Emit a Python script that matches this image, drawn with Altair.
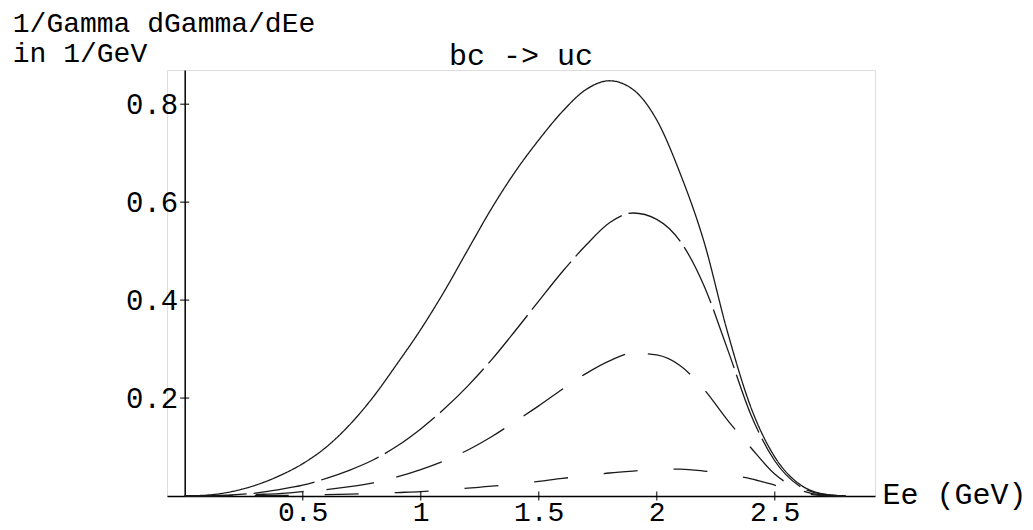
import altair as alt
import pandas as pd

# electron energy grid (GeV)
energy = [0.0, 0.1, 0.2, 0.3, 0.4, 0.5, 0.6, 0.7, 0.8, 0.9, 1.0, 1.1, 1.2, 1.3, 1.4,
          1.5, 1.6, 1.7, 1.8, 1.9, 2.0, 2.1, 2.2, 2.3, 2.4, 2.5, 2.6, 2.7, 2.8]

# 1/Gamma dGamma/dEe (1/GeV)
curve_solid = [0, .002, .009, .022, .041, .066, .100, .146, .203, .270, .340, .418, .503, .587, .662,
               .727, .785, .830, .848, .830, .768, .658, .520, .335, .180, .080, .026, .005, 0]
curve_long = [0, .0005, .002, .006, .013, .022, .036, .053, .074, .102, .137, .178, .225, .278, .337,
              .398, .458, .512, .558, .578, .565, .520, .430, .300, .165, .072, .022, .004, 0]
curve_medium = [0, .0002, .001, .003, .005, .009, .013, .019, .027, .039, .054, .072, .094, .121, .152,
                .184, .218, .250, .276, .292, .288, .266, .218, .155, .098, .045, .014, .002, 0]
curve_short = [0, 0, .0002, .0005, .001, .002, .003, .004, .005, .007, .009, .012, .016, .020, .025,
               .030, .036, .041, .047, .051, .054, .055, .051, .044, .035, .022, .008, .001, 0]

series_names = ["solid", "long dash", "medium dash", "short dash"]
x_ticks = [0.5, 1.0, 1.5, 2.0, 2.5]
y_ticks = [0.2, 0.4, 0.6, 0.8]

rows = []
for name, vals in zip(series_names, [curve_solid, curve_long, curve_medium, curve_short]):
    for e, v in zip(energy, vals):
        rows.append({"Ee": e, "rate": v, "curve": name})
df = pd.DataFrame(rows)

FONT = "Courier New, Courier, Liberation Mono, monospace"
W, H = 708, 426
X_DOM = [-0.075, 2.925]
Y_DOM = [0, 0.87]

x_axis = alt.Axis(values=x_ticks, format="~g", ticks=False, tickSize=0, grid=False,
                  domainColor="black", domainWidth=1.5,
                  labelFont=FONT, labelFontSize=28, labelColor="black",
                  labelPadding=24, labelBaseline="alphabetic",
                  title="Ee (GeV)", titleFont=FONT, titleFontSize=30,
                  titleFontWeight="normal", titleColor="black",
                  titleAlign="left", titleBaseline="middle",
                  titleAngle=0, titleX=W + 7, titleY=-2)
y_axis = alt.Axis(values=y_ticks, format="~g", ticks=False, tickSize=0, grid=False,
                  offset=-17.7,
                  domainColor="black", domainWidth=1.5,
                  labelFont=FONT, labelFontSize=29, labelColor="black",
                  labelPadding=7, labelAlign="right", labelBaseline="middle",
                  title=["1/Gamma dGamma/dEe", "in 1/GeV"],
                  titleFont=FONT, titleFontSize=28, titleFontWeight="normal",
                  titleColor="black", titleAngle=0, titleAlign="left",
                  titleBaseline="alphabetic", titleLineHeight=30,
                  titleX=-172.4, titleY=-39)

x_enc = alt.X("Ee:Q", scale=alt.Scale(domain=X_DOM, nice=False, zero=False), axis=x_axis)
y_enc = alt.Y("rate:Q", scale=alt.Scale(domain=Y_DOM, nice=False, zero=False), axis=y_axis)

lines = alt.Chart(df).mark_line(interpolate="monotone", strokeWidth=1.3, color="#1a1a1a").encode(
    x=x_enc,
    y=y_enc,
    strokeDash=alt.StrokeDash("curve:N",
                              scale=alt.Scale(domain=series_names,
                                              range=[[1, 0], [62, 7], [48, 23], [34, 36]]),
                              legend=None),
    detail="curve:N",
)

xt = alt.Chart(pd.DataFrame({"Ee": x_ticks, "rate": [0.0] * len(x_ticks)})).mark_tick(
    orient="vertical", size=9, thickness=1.5, color="black").encode(x=x_enc, y=y_enc)

yt = alt.Chart(pd.DataFrame({"rate": y_ticks, "Ee": [0.0] * len(y_ticks)})).mark_tick(
    orient="horizontal", size=9, thickness=1.5, color="black").encode(x=x_enc, y=y_enc)

title = alt.Chart(pd.DataFrame({"t": ["bc -> uc"]})).mark_text(
    font=FONT, fontSize=30, color="black", align="center", baseline="alphabetic").encode(
    text="t:N", x=alt.value(W / 2), y=alt.value(-5))

chart = alt.layer(lines, xt, yt, title).properties(
    width=W, height=H,
    autosize=alt.AutoSizeParams(type="none"),
    padding={"left": 167, "top": 70, "right": 158, "bottom": 34},
).configure_view(strokeOpacity=0).configure(background="white")

chart.save("out.html", embed_options={"renderer": "svg", "actions": False})
